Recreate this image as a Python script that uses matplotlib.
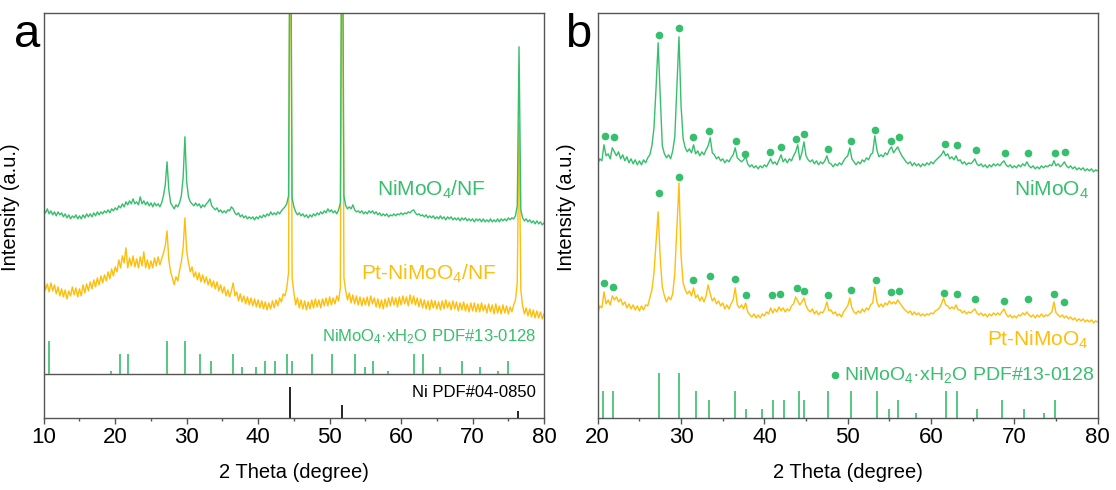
import numpy as np
import matplotlib.pyplot as plt

plt.rcParams['font.family'] = ['Liberation Sans', 'DejaVu Sans']
plt.rcParams['mathtext.fontset'] = 'custom'
plt.rcParams['mathtext.rm'] = 'Liberation Sans'
plt.rcParams['mathtext.default'] = 'rm'

GREEN = '#36bf6c'
YELLOW = '#ffbe0a'
FRAME = '#555555'

# ---- panel a: XRD on nickel foam, 2theta 10-80 in 0.25 deg steps ----
nimoo4_nf = [
    208, 205, 209, 204, 207, 203, 206, 202, 206, 203, 205, 201, 204, 200, 203, 199,
    202, 200, 203, 199, 202, 199, 203, 200, 204, 201, 204, 201, 205, 202, 206, 203,
    206, 204, 207, 205, 208, 205, 209, 207, 210, 208, 212, 210, 214, 211, 216, 213,
    217, 214, 219, 214, 216, 213, 221, 214, 217, 213, 216, 212, 215, 211, 215, 212,
    214, 211, 215, 222, 233, 256, 228, 215, 212, 209, 213, 211, 215, 222, 240, 281,
    236, 221, 216, 214, 212, 215, 212, 214, 210, 213, 211, 214, 216, 219, 212, 210,
    208, 210, 206, 208, 205, 207, 205, 208, 207, 211, 209, 205, 203, 205, 201, 203,
    200, 202, 199, 201, 199, 201, 198, 201, 199, 202, 200, 203, 201, 204, 202, 206,
    203, 205, 203, 206, 204, 207, 209, 211, 214, 222, 600, 220, 211, 206, 203, 205,
    202, 204, 201, 203, 200, 203, 201, 204, 202, 205, 203, 206, 204, 207, 205, 209,
    206, 208, 205, 207, 204, 208, 215, 600, 222, 212, 209, 211, 209, 213, 208, 206,
    207, 205, 207, 204, 206, 204, 207, 205, 207, 204, 206, 203, 205, 202, 204, 202,
    204, 201, 203, 202, 204, 202, 204, 203, 205, 203, 205, 204, 206, 205, 207, 208,
    205, 203, 204, 202, 203, 201, 203, 200, 202, 200, 202, 199, 201, 199, 202, 199,
    201, 198, 201, 199, 201, 198, 200, 198, 200, 197, 200, 198, 200, 197, 199, 197,
    199, 196, 199, 197, 199, 196, 199, 196, 198, 196, 199, 196, 198, 196, 199, 196,
    199, 197, 199, 197, 200, 198, 200, 199, 202, 212, 371, 208, 200, 197, 199, 196,
    198, 195, 197, 194, 197, 194, 196, 193, 195]
pt_nimoo4_nf = [
    140, 128, 134, 126, 135, 127, 133, 124, 131, 122, 129, 121, 128, 119, 127, 122,
    131, 123, 130, 121, 129, 122, 133, 125, 134, 127, 136, 129, 138, 131, 140, 133,
    142, 135, 143, 137, 146, 139, 149, 142, 151, 146, 158, 150, 162, 155, 170, 150,
    160, 152, 162, 151, 159, 150, 161, 152, 166, 150, 158, 149, 157, 150, 160, 152,
    161, 153, 159, 165, 172, 187, 158, 146, 140, 133, 141, 137, 147, 156, 170, 200,
    167, 155, 146, 151, 141, 146, 138, 145, 136, 143, 135, 141, 133, 139, 131, 137,
    129, 136, 127, 133, 125, 131, 122, 128, 121, 127, 135, 122, 126, 117, 124, 116,
    122, 114, 121, 113, 120, 112, 119, 111, 118, 110, 117, 109, 116, 108, 115, 109,
    117, 110, 118, 112, 120, 116, 124, 122, 130, 145, 600, 140, 125, 113, 120, 110,
    118, 109, 117, 108, 116, 109, 118, 110, 119, 111, 118, 110, 119, 112, 120, 112,
    121, 113, 120, 114, 122, 117, 130, 600, 140, 127, 118, 125, 115, 123, 114, 122,
    113, 121, 112, 120, 113, 121, 112, 122, 114, 120, 111, 119, 110, 118, 109, 119,
    111, 120, 112, 121, 113, 120, 111, 121, 113, 122, 114, 121, 112, 123, 114, 122,
    113, 120, 111, 119, 110, 118, 109, 117, 108, 118, 110, 117, 109, 116, 108, 117,
    109, 118, 110, 116, 108, 117, 109, 116, 107, 115, 108, 116, 107, 114, 106, 115,
    107, 115, 106, 114, 106, 115, 107, 113, 105, 114, 106, 113, 104, 114, 105, 112,
    104, 113, 105, 112, 104, 111, 106, 113, 118, 135, 295, 128, 112, 104, 110, 102,
    109, 101, 108, 100, 107, 100, 106, 99, 104]

# ---- panel b: powders, 2theta 20-80 in 0.25 deg steps ----
nimoo4 = [
    254, 259, 257, 273, 262, 264, 259, 270, 266, 262, 266, 259, 263, 257, 261, 255,
    259, 254, 258, 253, 257, 253, 258, 255, 260, 263, 272, 290, 330, 375, 322, 272,
    264, 260, 263, 259, 267, 281, 330, 381, 312, 279, 270, 266, 269, 265, 273, 264,
    267, 262, 266, 263, 268, 272, 280, 265, 263, 259, 261, 257, 259, 255, 258, 256,
    260, 263, 270, 260, 258, 256, 258, 261, 254, 251, 253, 250, 252, 249, 252, 250,
    253, 251, 255, 259, 254, 256, 253, 258, 263, 256, 259, 255, 259, 257, 262, 266,
    273, 258, 265, 276, 262, 258, 256, 258, 254, 257, 253, 256, 254, 257, 262, 255,
    254, 251, 254, 252, 255, 253, 257, 260, 262, 270, 259, 256, 253, 256, 254, 258,
    256, 260, 258, 263, 265, 282, 268, 261, 263, 261, 265, 263, 268, 271, 265, 268,
    271, 266, 262, 259, 256, 254, 256, 252, 255, 252, 254, 251, 254, 252, 255, 253,
    256, 254, 257, 259, 261, 263, 267, 262, 264, 259, 261, 258, 262, 257, 258, 254,
    256, 253, 255, 254, 256, 259, 254, 252, 254, 251, 253, 250, 253, 251, 254, 252,
    254, 252, 255, 257, 253, 251, 253, 250, 252, 250, 253, 251, 254, 252, 256, 252,
    250, 252, 249, 251, 249, 252, 250, 252, 251, 253, 252, 257, 252, 254, 251, 253,
    256, 252, 250, 252, 249, 251, 248, 250, 248, 250, 247, 249, 247, 249, 246, 248,
    247]
pt_nimoo4 = [
    104, 112, 110, 126, 114, 118, 113, 122, 118, 121, 116, 119, 113, 116, 110, 114,
    109, 113, 108, 112, 107, 112, 108, 113, 112, 120, 128, 145, 175, 206, 160, 131,
    122, 116, 121, 118, 124, 145, 190, 235, 162, 135, 128, 124, 127, 122, 130, 120,
    123, 117, 121, 116, 122, 133, 124, 117, 120, 114, 117, 112, 115, 109, 113, 109,
    114, 118, 130, 113, 110, 113, 109, 115, 106, 103, 101, 104, 100, 103, 100, 104,
    102, 106, 104, 110, 105, 109, 106, 111, 107, 110, 106, 109, 107, 112, 114, 121,
    117, 113, 116, 120, 112, 108, 106, 109, 104, 107, 103, 106, 105, 109, 116, 107,
    108, 104, 106, 102, 104, 101, 106, 109, 112, 120, 110, 106, 104, 107, 105, 109,
    106, 110, 108, 113, 115, 131, 116, 111, 114, 111, 115, 113, 117, 114, 116, 114,
    118, 115, 112, 109, 107, 105, 107, 103, 106, 103, 105, 102, 104, 102, 104, 103,
    105, 104, 107, 108, 110, 114, 120, 113, 112, 109, 111, 109, 113, 108, 108, 105,
    107, 104, 106, 105, 107, 109, 105, 103, 105, 102, 104, 101, 104, 102, 105, 103,
    105, 103, 106, 109, 104, 101, 103, 100, 102, 100, 103, 102, 105, 103, 106, 103,
    101, 103, 100, 103, 101, 104, 101, 103, 102, 104, 106, 116, 105, 103, 101, 103,
    100, 102, 99, 101, 98, 100, 97, 99, 97, 99, 96, 98, 96, 98, 95, 97,
    96]

# reference patterns
pdf_pos = [10.75, 19.4, 20.6, 21.8, 27.3, 29.8, 31.8, 33.4, 36.5, 37.8, 39.7, 41.0, 42.4, 44.1,
           44.7, 47.6, 50.4, 53.5, 54.9, 56.0, 58.2, 61.8, 63.1, 65.5, 68.5, 71.1, 73.6, 74.9]
pdf_int = [100, 10, 60, 60, 100, 100, 60, 40, 60, 20, 20, 40, 40, 60,
           40, 60, 60, 60, 20, 40, 10, 60, 60, 20, 40, 20, 10, 40]
ni_pos = [44.5, 51.8, 76.4]
ni_int = [100, 42, 21]

# peak markers in panel b
dots_top_x = [20.9, 21.9, 27.3, 29.8, 31.4, 33.4, 36.6, 37.7, 40.7, 42.0, 43.8, 44.8,
              47.6, 50.4, 53.3, 55.2, 56.2, 61.7, 63.1, 65.4, 68.9, 71.6, 74.9, 76.1]
dots_top_y = [282, 281, 383, 390, 281, 287, 277, 264, 266, 271, 279, 284,
              269, 277, 288, 277, 281, 274, 273, 268, 265, 265, 265, 266]
dots_bot_x = [20.8, 21.8, 27.3, 29.8, 31.4, 33.5, 36.5, 37.8, 40.9, 41.9, 43.9, 44.8,
              47.6, 50.4, 53.4, 55.2, 56.2, 61.6, 63.1, 65.3, 68.8, 71.6, 74.8, 76.0]
dots_bot_y = [135, 131, 225, 241, 138, 142, 139, 123, 123, 124, 130, 127,
              123, 128, 138, 126, 127, 125, 124, 119, 117, 119, 124, 116]

x_a = np.linspace(10, 80, len(nimoo4_nf))
x_b = np.linspace(20, 80, len(nimoo4))

fig = plt.figure(figsize=(11.16, 4.9), dpi=100)
ax1 = fig.add_axes([0.0392, 0.147, 0.4483, 0.827])
ax2 = fig.add_axes([0.5356, 0.147, 0.448, 0.827])


def style(ax, xmin):
    ax.set_xlim(xmin, 80)
    ax.set_ylim(0, 405)
    for s in ax.spines.values():
        s.set_color(FRAME)
        s.set_linewidth(1.0)
    ax.set_yticks([])
    ax.set_xticks(np.arange(xmin, 81, 10))
    ax.set_xticks(np.arange(xmin + 5, 80, 10), minor=True)
    ax.tick_params(axis='x', which='major', direction='out', length=4, width=1,
                   color=FRAME, labelsize=16, pad=2.5)
    ax.tick_params(axis='x', which='minor', direction='out', length=2.5, width=1, color=FRAME)
    ax.set_xlabel('2 Theta (degree)', fontsize=14.5)
    ax.set_ylabel('Intensity (a.u.)', fontsize=14.5)


# panel a
style(ax1, 10)
ax1.plot(x_a, pt_nimoo4_nf, color=YELLOW, lw=1.0)
ax1.plot(x_a, nimoo4_nf, color=GREEN, lw=1.0)
ax1.axhline(44, color=FRAME, lw=1.0)
ax1.vlines(pdf_pos, 44, 44 + np.array(pdf_int) * 0.33, color=GREEN, lw=1.2)
ax1.vlines(ni_pos, 0, np.array(ni_int) * 0.313, color='black', lw=1.2)
ax1.text(64.2, 228, r'NiMoO$_4$/NF', color=GREEN, fontsize=15, ha='center', va='center')
ax1.text(63.9, 144, r'Pt-NiMoO$_4$/NF', color=YELLOW, fontsize=15, ha='center', va='center')
ax1.text(78.9, 81, r'NiMoO$_4$·xH$_2$O PDF#13-0128', color=GREEN, fontsize=12,
         ha='right', va='center')
ax1.text(78.9, 25, 'Ni PDF#04-0850', color='black', fontsize=12, ha='right', va='center')
ax1.xaxis.set_label_coords(0.5, -0.11)
ax1.yaxis.set_label_coords(-0.047, 0.52)

# panel b
style(ax2, 20)
ax2.plot(x_b, pt_nimoo4, color=YELLOW, lw=1.0)
ax2.plot(x_b, nimoo4, color=GREEN, lw=1.0)
ax2.vlines([p for p in pdf_pos if p > 20], 0,
           np.array([i for p, i in zip(pdf_pos, pdf_int) if p > 20]) * 0.45, color=GREEN, lw=1.2)
ax2.plot(dots_top_x, dots_top_y, 'o', color=GREEN, ms=5.5, mec='none')
ax2.plot(dots_bot_x, dots_bot_y, 'o', color=GREEN, ms=5.5, mec='none')
ax2.plot([48.5], [43], 'o', color=GREEN, ms=5.5, mec='none')
ax2.text(78.9, 228, r'NiMoO$_4$', color=GREEN, fontsize=15, ha='right', va='center')
ax2.text(78.9, 78, r'Pt-NiMoO$_4$', color=YELLOW, fontsize=15, ha='right', va='center')
ax2.text(49.6, 43, r'NiMoO$_4$·xH$_2$O PDF#13-0128', color=GREEN, fontsize=14,
         ha='left', va='center')
ax2.xaxis.set_label_coords(0.5, -0.11)
ax2.yaxis.set_label_coords(-0.043, 0.52)

fig.text(0.0125, 0.904, 'a', fontsize=34, ha='left', va='baseline')
fig.text(0.506, 0.904, 'b', fontsize=34, ha='left', va='baseline')

fig.savefig('out.png', dpi=100)
